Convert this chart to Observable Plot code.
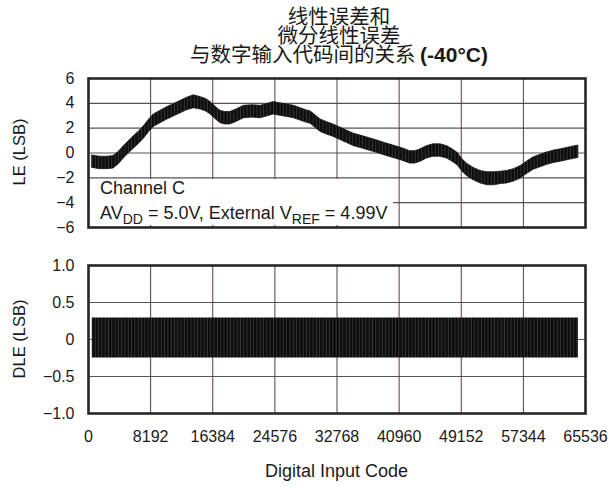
<!DOCTYPE html>
<html><head><meta charset="utf-8">
<script src="https://cdn.jsdelivr.net/npm/d3@7"></script>
<script src="https://cdn.jsdelivr.net/npm/@observablehq/plot@0.6"></script>
<style>
body{margin:0;background:#fff;}
#wrap{position:relative;width:612px;height:487px;overflow:hidden;font-family:"Liberation Sans",Arial,sans-serif;color:#1a1a1a;}
.tline{position:absolute;left:88px;width:502px;height:19px;text-align:center;font-family:"Noto Sans CJK SC",sans-serif;font-size:20.5px;line-height:19px;white-space:nowrap;z-index:3;}
.tline b{font-family:"Liberation Sans",Arial,sans-serif;font-size:21px;}
.panel{position:absolute;left:0;}
.ylab{position:absolute;font-size:16.5px;transform:translate(-50%,-50%) rotate(-90deg);white-space:nowrap;line-height:18px;}
#legend{position:absolute;left:90px;top:179px;width:303px;height:46px;background:#fff;font-size:18px;z-index:2;}
#legend span{position:absolute;left:10px;white-space:nowrap;line-height:20px;}
sub{font-size:14px;vertical-align:-5px;line-height:0;}
#xlab{position:absolute;left:336.5px;top:461px;transform:translateX(-50%);font-size:18px;line-height:20px;white-space:nowrap;}
</style></head>
<body>
<div id="wrap">
  <div class="tline" style="top:6px">线性误差和</div>
  <div class="tline" style="top:25px">微分线性误差</div>
  <div class="tline" style="top:44px">与数字输入代码间的关系 <b>(-40°C)</b></div>
  <div id="top" class="panel" style="top:70px"></div>
  <div id="bot" class="panel" style="top:257px"></div>
  <div class="ylab" style="left:19px;top:152px">LE (LSB)</div>
  <div class="ylab" style="left:19px;top:339px">DLE (LSB)</div>
  <div id="legend">
    <span style="top:-1px">Channel C</span>
    <span style="top:24px">AV<sub>DD</sub> = 5.0V, External V<sub>REF</sub> = 4.99V</span>
  </div>
  <div id="xlab">Digital Input Code</div>
</div>
<script>
// ---- data ----
const xTicks = [0, 8192, 16384, 24576, 32768, 40960, 49152, 57344, 65536];
const leTicks = [-6, -4, -2, 0, 2, 4, 6];
const dleTicks = [-1, -0.5, 0, 0.5, 1];

// LE band envelope (digital code, lower and upper edge in LSB)
const leCode = [500,1500,2500,3300,4000, 4650,5300,5970,6600,7300, 8000,8600,9500,10400,11300,
  12150,13000,13900,14800,15500, 16100,16800,17400,18000,18700, 19500,20500,21600,22700,23600,
  24400,25300,26200,27100,28000, 28700,29300,30000,30600,31400, 32300,33200,34100,35000,35900,
  37000,38100,39100,40200,41300, 42400,43100,43800,44600,45500, 46400,47300,48000,48700,49300,
  50000,50800,51700,52600,53500, 54400,55200,56100,57000,57800, 58700,59600,60500,61400,62300,
  63400,64600];
const leHigh = [-0.2,-0.3,-0.3,-0.25,0.1, 0.55,0.95,1.35,1.7,2.15, 2.7,3.1,3.4,3.7,3.95,
  4.2,4.45,4.65,4.5,4.35, 4.1,3.7,3.4,3.3,3.3, 3.5,3.8,3.85,3.8,3.95,
  4.1,4.0,3.9,3.8,3.6, 3.45,3.35,3.0,2.7,2.5, 2.3,2.05,1.8,1.55,1.4,
  1.2,1.0,0.8,0.6,0.4, 0.15,0.15,0.3,0.55,0.7, 0.7,0.55,0.3,0.0,-0.5,
  -0.9,-1.2,-1.45,-1.55,-1.55, -1.5,-1.45,-1.3,-1.05,-0.7, -0.35,-0.15,0.05,0.2,0.3,
  0.45,0.6];
const leLow = [-1.2,-1.3,-1.3,-1.25,-0.9, -0.45,-0.05,0.35,0.7,1.15, 1.7,2.1,2.4,2.7,2.95,
  3.2,3.45,3.6,3.5,3.35, 3.1,2.7,2.4,2.3,2.3, 2.5,2.8,2.85,2.8,2.95,
  3.1,3.0,2.9,2.8,2.6, 2.45,2.35,2.0,1.7,1.5, 1.3,1.05,0.8,0.55,0.4,
  0.2,0.0,-0.2,-0.4,-0.6, -0.85,-0.85,-0.7,-0.45,-0.3, -0.3,-0.45,-0.7,-1.0,-1.5,
  -1.9,-2.2,-2.45,-2.6,-2.6, -2.5,-2.45,-2.3,-2.05,-1.7, -1.35,-1.15,-0.95,-0.8,-0.7,
  -0.55,-0.4];

// DLE band envelope
const dleCode = [500, 64600];
const dleHigh = [0.29, 0.29];
const dleLow = [-0.25, -0.25];

// ---- build ----
const le = leCode.map((c, i) => ({code: c, lo: leLow[i], hi: leHigh[i]}));
const dle = dleCode.map((c, i) => ({code: c, lo: dleLow[i], hi: dleHigh[i]}));

const baseStyle = {fontSize: "16px", fontFamily: "Liberation Sans, Arial, sans-serif", color: "#1a1a1a", background: "transparent", overflow: "visible"};
const gridV = "#5b3a4a", gridH = "#555555", frameC = "#262626";

function addStripes(svg, id) {
  const ns = "http://www.w3.org/2000/svg";
  const defs = document.createElementNS(ns, "defs");
  const pat = document.createElementNS(ns, "pattern");
  pat.setAttribute("id", id);
  pat.setAttribute("patternUnits", "userSpaceOnUse");
  pat.setAttribute("width", "3.3");
  pat.setAttribute("height", "10");
  const bg = document.createElementNS(ns, "rect");
  bg.setAttribute("width", "3.3"); bg.setAttribute("height", "10"); bg.setAttribute("fill", "#0d0d0d");
  const ln = document.createElementNS(ns, "rect");
  ln.setAttribute("x", "2.4"); ln.setAttribute("width", "0.8"); ln.setAttribute("height", "10"); ln.setAttribute("fill", "#3a3a3a");
  pat.appendChild(bg); pat.appendChild(ln); defs.appendChild(pat);
  svg.insertBefore(defs, svg.firstChild);
}

const topPlot = Plot.plot({
  width: 612, height: 165, marginLeft: 88, marginRight: 27, marginTop: 8, marginBottom: 8,
  style: baseStyle,
  x: {domain: [0, 65536], axis: null},
  y: {domain: [-6, 6]},
  marks: [
    Plot.gridY(leTicks, {stroke: gridH, strokeOpacity: 1, strokeWidth: 1.2}),
    Plot.gridX(xTicks, {stroke: gridV, strokeOpacity: 1, strokeWidth: 1}),
    Plot.areaY(le, {x: "code", y1: "lo", y2: "hi", fill: "url(#stripesLE)", stroke: "#151515", strokeWidth: 0.8}),
    Plot.axisY(leTicks, {tickSize: 0, tickPadding: 14, label: null, tickFormat: d3.format("d")}),
    Plot.frame({stroke: frameC, strokeWidth: 2.6})
  ]
});
addStripes(topPlot, "stripesLE");
document.getElementById("top").appendChild(topPlot);

const botPlot = Plot.plot({
  width: 612, height: 230, marginLeft: 88, marginRight: 27, marginTop: 8, marginBottom: 74,
  style: baseStyle,
  x: {domain: [0, 65536]},
  y: {domain: [-1, 1]},
  marks: [
    Plot.gridY(dleTicks, {stroke: gridH, strokeOpacity: 1, strokeWidth: 1.2}),
    Plot.gridX(xTicks, {stroke: gridV, strokeOpacity: 1, strokeWidth: 1}),
    Plot.areaY(dle, {x: "code", y1: "lo", y2: "hi", fill: "url(#stripesDLE)"}),
    Plot.axisY(dleTicks, {tickSize: 0, tickPadding: 14, label: null, tickFormat: d => d === 0 ? "0" : d3.format(".1f")(d)}),
    Plot.axisX(xTicks, {tickSize: 0, tickPadding: 17, label: null, tickFormat: d3.format("d")}),
    Plot.frame({stroke: frameC, strokeWidth: 2.6})
  ]
});
addStripes(botPlot, "stripesDLE");
document.getElementById("bot").appendChild(botPlot);
</script>
</body></html>
